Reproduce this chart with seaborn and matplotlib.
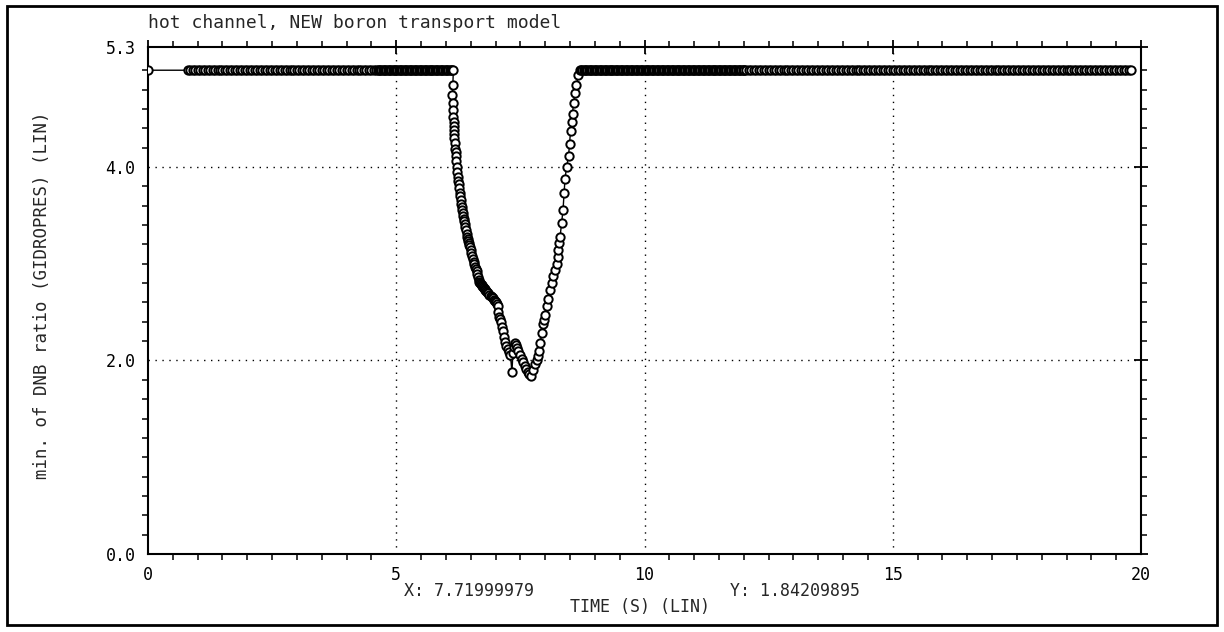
import numpy as np
import pandas as pd
import matplotlib
matplotlib.use("Agg")
import matplotlib.pyplot as plt
from matplotlib.patches import Rectangle
from matplotlib.ticker import FixedLocator, MultipleLocator
import seaborn as sns

# ---------------- data ----------------
FLAT_VALUE = 5.0
# flat stretches of output times: (start, stop, step)
flat_before = [(0.8, 4.6, 0.05), (4.6, 6.17, 0.025)]
flat_after = [(8.70, 12.0, 0.025), (12.0, 19.81, 0.05)]

# steep drop
drop_t = [6.14, 6.13, 6.14, 6.15, 6.15, 6.16, 6.16, 6.17, 6.17, 6.17,
          6.18, 6.19, 6.20, 6.20, 6.21, 6.22, 6.23, 6.25, 6.25, 6.26,
          6.26, 6.28, 6.29]
drop_y = [4.85, 4.74, 4.66, 4.59, 4.52, 4.47, 4.42, 4.38, 4.34, 4.30,
          4.25, 4.19, 4.15, 4.11, 4.06, 4.00, 3.95, 3.90, 3.86, 3.82,
          3.78, 3.73, 3.70]
# slower decline
decl_t = [6.30, 6.31, 6.32, 6.33, 6.34, 6.35, 6.36, 6.37, 6.38, 6.39,
          6.40, 6.42, 6.43, 6.44, 6.45, 6.46, 6.47, 6.48, 6.50, 6.51,
          6.53, 6.54, 6.56, 6.57, 6.59, 6.60, 6.62, 6.63, 6.65, 6.66,
          6.67, 6.69, 6.70, 6.72, 6.73, 6.75, 6.76, 6.78, 6.79, 6.81,
          6.83, 6.85, 6.87, 6.90, 6.92, 6.94, 6.96, 6.98, 7.00, 7.02]
decl_y = [3.66, 3.62, 3.59, 3.56, 3.52, 3.49, 3.46, 3.44, 3.41, 3.38,
          3.35, 3.31, 3.28, 3.26, 3.23, 3.21, 3.19, 3.17, 3.14, 3.11,
          3.08, 3.05, 3.02, 3.00, 2.97, 2.95, 2.92, 2.89, 2.86, 2.83,
          2.81, 2.80, 2.79, 2.78, 2.77, 2.76, 2.75, 2.74, 2.73, 2.72,
          2.71, 2.70, 2.68, 2.67, 2.66, 2.65, 2.63, 2.62, 2.60, 2.58]
# bottom of the dip
bottom_t = [7.04, 7.05, 7.06, 7.08, 7.10, 7.12, 7.14, 7.17, 7.19, 7.22,
            7.25, 7.28, 7.30, 7.33, 7.35, 7.37, 7.39, 7.42, 7.44, 7.46,
            7.50, 7.53, 7.56, 7.59, 7.62, 7.65, 7.68, 7.72]
bottom_y = [2.56, 2.50, 2.45, 2.43, 2.40, 2.35, 2.30, 2.24, 2.19, 2.15,
            2.12, 2.09, 2.06, 1.88, 2.08, 2.14, 2.18, 2.16, 2.13, 2.10,
            2.06, 2.02, 1.98, 1.94, 1.91, 1.88, 1.86, 1.842]
# recovery
rise_t = [7.76, 7.80, 7.83, 7.85, 7.87, 7.90, 7.93, 7.96, 7.98, 8.00,
          8.03, 8.06, 8.10, 8.13, 8.16, 8.20, 8.23, 8.25, 8.26, 8.28,
          8.30, 8.33, 8.36, 8.38, 8.40, 8.43, 8.47, 8.49, 8.51, 8.53,
          8.55, 8.57, 8.60, 8.63, 8.67]
rise_y = [1.90, 1.96, 2.01, 2.05, 2.10, 2.18, 2.28, 2.38, 2.42, 2.47,
          2.56, 2.64, 2.73, 2.80, 2.87, 2.94, 3.00, 3.07, 3.14, 3.21,
          3.28, 3.42, 3.56, 3.73, 3.88, 4.00, 4.11, 4.24, 4.37, 4.47,
          4.55, 4.66, 4.76, 4.85, 4.95]

x_ticks = [0, 5, 10, 15, 20]
x_ticklabels = ["0", "5", "10", "15", "20"]
y_ticks = [0.0, 2.0, 4.0, 5.24]
y_ticklabels = ["0.0", "2.0", "4.0", "5.3"]

title_text = "hot channel, NEW boron transport model"
ylabel_text = "min. of DNB ratio (GIDROPRES) (LIN)"
xlabel_text = "TIME (S) (LIN)"
cursor_x_text = "X: 7.71999979"
cursor_y_text = "Y: 1.84209895"

# ---------------- assemble series ----------------
t_parts = [np.array([0.0])]
y_parts = [np.array([FLAT_VALUE])]
for a, b, s in flat_before:
    tt = np.arange(a, b, s)
    t_parts.append(tt)
    y_parts.append(np.full(len(tt), FLAT_VALUE))
for tl, yl in [(drop_t, drop_y), (decl_t, decl_y), (bottom_t, bottom_y), (rise_t, rise_y)]:
    t_parts.append(np.array(tl))
    y_parts.append(np.array(yl))
for a, b, s in flat_after:
    tt = np.arange(a, b, s)
    t_parts.append(tt)
    y_parts.append(np.full(len(tt), FLAT_VALUE))

df = pd.DataFrame({"t": np.concatenate(t_parts), "y": np.concatenate(y_parts)})

# ---------------- plot ----------------
sns.set_style("white")
plt.rcParams["font.family"] = ["DejaVu Sans Mono"]
W, H = 1224, 632
fig = plt.figure(figsize=(W / 100, H / 100), dpi=100)
ax = fig.add_axes([148 / W, 1 - 554 / H, (1141 - 148) / W, (554 - 47) / H])

sns.lineplot(data=df, x="t", y="y", ax=ax, sort=False, estimator=None,
             color="black", linewidth=1.0, marker="o", markersize=6.0,
             markerfacecolor="white", markeredgecolor="black",
             markeredgewidth=1.4, zorder=3)

ax.set_xlim(0, 20)
ax.set_ylim(0, 5.24)
ax.xaxis.set_major_locator(FixedLocator(x_ticks))
ax.set_xticklabels(x_ticklabels)
ax.xaxis.set_minor_locator(MultipleLocator(0.5))
ax.yaxis.set_major_locator(FixedLocator(y_ticks))
ax.set_yticklabels(y_ticklabels)
ax.yaxis.set_minor_locator(FixedLocator([v / 10 for v in range(2, 52, 2)]))

ax.tick_params(which="major", direction="inout", length=10, width=1.3,
               top=True, right=True, labelsize=12, colors="black", pad=4)
ax.tick_params(which="minor", direction="out", length=4, width=1.3,
               top=True, right=True, bottom=True, left=True)
for sp in ax.spines.values():
    sp.set_visible(True)
    sp.set_color("black")
    sp.set_linewidth(1.5)

ax.set_xlabel("")
ax.set_ylabel("")
for gx in [5, 10, 15]:
    ax.axvline(gx, color="black", linestyle=(0, (1, 4)), linewidth=1.0, zorder=1)
for gy in [2.0, 4.0]:
    ax.axhline(gy, color="black", linestyle=(0, (1, 4)), linewidth=1.0, zorder=1)

ax.text(0, 1.03, title_text, transform=ax.transAxes, fontsize=13,
        ha="left", va="bottom")
fig.text(42 / W, 1 - 295 / H, ylabel_text, rotation=90, fontsize=12.5,
         ha="center", va="center")
fig.text(640 / W, 1 - 607 / H, xlabel_text, fontsize=12, ha="center", va="center")
fig.text(404 / W, 1 - 591 / H, cursor_x_text, fontsize=12, ha="left", va="center")
fig.text(730 / W, 1 - 591 / H, cursor_y_text, fontsize=12, ha="left", va="center")

fig.patches.append(Rectangle((7 / W, 1 - 625 / H), (1217 - 7) / W, (625 - 6) / H,
                             transform=fig.transFigure, fill=False,
                             edgecolor="black", linewidth=2))

fig.savefig("out.png", dpi=100, facecolor="white")
